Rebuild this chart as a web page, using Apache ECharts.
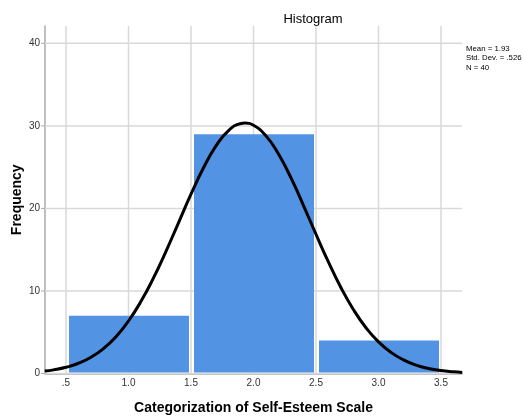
<!DOCTYPE html>
<html><head><meta charset="utf-8">
<script src="https://cdn.jsdelivr.net/npm/echarts@6/dist/echarts.min.js"></script>
<style>html,body{margin:0;padding:0;background:#fff}#c{width:523px;height:417px}</style>
</head><body><div id="c"></div>
<script>
// Histogram bins (lower edge, upper edge) and frequencies
const binLower = [0.5, 1.5, 2.5];
const binUpper = [1.5, 2.5, 3.5];
const frequencies = [7, 29, 4];
// Normal curve points
const curveX = [0.33,0.4,0.5,0.6,0.7,0.8,0.9,1.0,1.1,1.2,1.3,1.4,1.5,1.6,1.7,1.8,1.9,1.93,2.0,2.1,2.2,2.3,2.4,2.5,2.6,2.7,2.8,2.9,3.0,3.1,3.2,3.3,3.4,3.5,3.6,3.67];
const curveY = [0.30,0.44,0.75,1.24,1.97,3.02,4.46,6.36,8.74,11.58,14.81,18.26,21.72,24.92,27.57,29.43,30.29,30.34,30.07,28.79,26.59,23.69,20.35,16.87,13.48,10.39,7.73,5.54,3.83,2.56,1.65,1.02,0.61,0.35,0.20,0.13];
const xTicks = [0.5,1.0,1.5,2.0,2.5,3.0,3.5];
const xTickLabels = ['.5','1.0','1.5','2.0','2.5','3.0','3.5'];
const yTicks = [0,10,20,30,40];
const statsLines = ['Mean = 1.93','Std. Dev. = .526','N = 40'];

const chart = echarts.init(document.getElementById('c'), null, {renderer:'canvas'});
const font = 'Arial, "Liberation Sans", sans-serif';
const barData = binLower.map((lo,i)=>[lo, binUpper[i], frequencies[i]]);
const curveData = curveX.map((x,i)=>[x, curveY[i]]);
const X_MIN = 0.332, X_MAX = 3.668, Y_MAX = 42.1;

chart.setOption({
  animation:false,
  grid:{left:45, right:61, top:26, bottom:43.5, containLabel:false, outerBoundsMode:'none'},
  title:{text:'Histogram', left:308, top:8, textAlign:'center',
    textStyle:{fontFamily:font, fontSize:13, fontWeight:'normal', color:'#000'}},
  graphic:[{type:'text', left:466, top:44,
    style:{text:statsLines.join('\n'), font:'7.8px '+font, fill:'#000', lineHeight:9.5}}],
  xAxis:{type:'value', min:X_MIN, max:X_MAX,
    name:'Categorization of Self-Esteem Scale', nameLocation:'middle', nameGap:28,
    nameTextStyle:{fontFamily:font, fontSize:14, fontWeight:'bold', color:'#000'},
    axisLine:{show:true, onZero:false, lineStyle:{color:'#aaa', width:1.5}},
    axisTick:{show:false},
    splitLine:{show:false},
    axisLabel:{show:false}
  },
  yAxis:{type:'value', min:0, max:Y_MAX, interval:10,
    name:'Frequency', nameLocation:'middle', nameGap:21, nameRotate:90,
    nameTextStyle:{fontFamily:font, fontSize:14, fontWeight:'bold', color:'#000'},
    axisLine:{show:true, lineStyle:{color:'#aaa', width:1.5}},
    axisTick:{show:false},
    splitLine:{show:false},
    axisLabel:{show:false}
  },
  series:[
    {type:'custom', z:1, silent:true, data:yTicks.map(v=>[v]),
      renderItem:(params, api)=>{
        const v = api.value(0);
        const l = api.coord([X_MIN, v]);
        const r = api.coord([X_MAX, v]);
        return {type:'group', children:[
          {type:'line', shape:{x1:l[0],y1:l[1],x2:r[0],y2:r[1]},
            style:{stroke:'#d9d9d9', lineWidth:1.5}},
          {type:'line', shape:{x1:l[0]-4,y1:l[1],x2:l[0],y2:l[1]},
            style:{stroke:'#aaa', lineWidth:1}},
          {type:'text', x:l[0]-5, y:l[1],
            style:{text:String(v), font:'10px '+font, fill:'#333', align:'right', verticalAlign:'middle'}}
        ]};
      }},
    {type:'custom', z:1, silent:true, data:xTicks.map((x,i)=>[x,i]),
      renderItem:(params, api)=>{
        const x = api.value(0);
        const top = api.coord([x, Y_MAX]);
        const bot = api.coord([x, 0]);
        const idx = api.value(1);
        return {type:'group', children:[
          {type:'line', shape:{x1:top[0],y1:top[1],x2:bot[0],y2:bot[1]},
            style:{stroke:'#d9d9d9', lineWidth:1.5}},
          {type:'text', x:bot[0], y:bot[1]+5,
            style:{text:xTickLabels[idx], font:'10px '+font, fill:'#333', align:'center', verticalAlign:'top'}}
        ]};
      }},
    {type:'custom', z:2, silent:true, data:barData,
      renderItem:(params, api)=>{
        const p1 = api.coord([api.value(0), api.value(2)]);
        const p2 = api.coord([api.value(1), 0]);
        return {type:'rect', shape:{x:p1[0]+3, y:p1[1], width:p2[0]-p1[0]-5, height:p2[1]-p1[1]-1},
          style:{fill:'#5393e4'}};
      }},
    {type:'line', z:3, data:curveData, smooth:true, symbol:'none',
      lineStyle:{color:'#000', width:3}}
  ]
});
</script></body></html>
